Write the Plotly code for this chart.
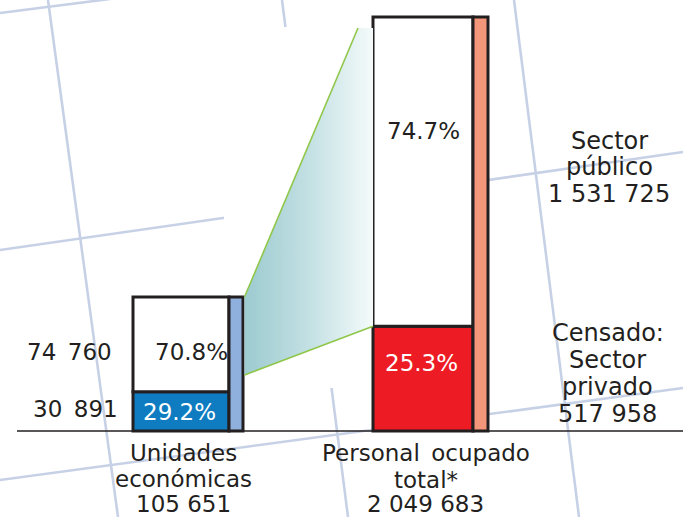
import plotly.graph_objects as go

# ---------------- data ----------------
categories = ["Unidades económicas", "Personal ocupado total*"]
category_lines = [["Unidades", "económicas"], ["Personal\u2002ocupado", "total*"]]
totals = [105651, 2049683]

unidades_values = [30891, 74760]        # censado (privado), resto
unidades_pct = [29.2, 70.8]
personal_values = [517958, 1531725]     # sector privado, sector público
personal_pct = [25.3, 74.7]
right_labels_public = ["Sector", "público"]
right_labels_private = ["Censado:", "Sector", "privado"]

# ---------------- styling / layout constants ----------------
W, H = 683, 517
BASE_PX = 431           # baseline pixel row
STEP_PX = 242           # distance between the two bar centres
LEFT_C_PX = 181         # centre of first bar
LEFT_FULL_PX = 134      # drawn height of the first bar
RIGHT_FULL_PX = 414     # drawn height of the second bar
BORDER = "#231f20"
TXT = "#231f20"
FONT = "DejaVu Sans"

def px2paper(x, y):
    return x / W, 1 - y / H

def fmt(n, sep=" "):
    return f"{n:,}".replace(",", sep)

xr = [-LEFT_C_PX / STEP_PX, (W - LEFT_C_PX) / STEP_PX]
yr = [-(H - BASE_PX) / LEFT_FULL_PX * 100, BASE_PX / LEFT_FULL_PX * 100]
y2r = [-(H - BASE_PX) / RIGHT_FULL_PX * 100, BASE_PX / RIGHT_FULL_PX * 100]

fig = go.Figure()

# bar geometry (in x units)
l_off, l_w = -48 / STEP_PX, 96 / STEP_PX
lt_off, lt_w = 48 / STEP_PX, 14 / STEP_PX
r_off, r_w = -50 / STEP_PX, 100 / STEP_PX
rt_off, rt_w = 50 / STEP_PX, 15 / STEP_PX

# connector (zoom wedge) on y2
left_bar_top_y2 = 100 * LEFT_FULL_PX / RIGHT_FULL_PX
xl = 0 + lt_off + lt_w + 1.5 / STEP_PX
xr_edge = 1 + r_off
x_top = (358 - LEFT_C_PX) / STEP_PX
y_top = (BASE_PX - 28) / RIGHT_FULL_PX * 100
y_lb = (BASE_PX - 375) / RIGHT_FULL_PX * 100
y_rb = personal_pct[0]

fig.add_trace(go.Scatter(
    x=[xl, x_top, xr_edge, xr_edge, xl, xl],
    y=[left_bar_top_y2, y_top, y_top, y_rb, y_lb, left_bar_top_y2],
    yaxis="y2", mode="lines", fill="toself", line=dict(width=0),
    fillgradient=dict(type="horizontal",
                      colorscale=[[0, "#9ccbd0"], [0.5, "#c3e0e3"], [1, "#f4fafa"]]),
    hoverinfo="skip", showlegend=False))
fig.add_trace(go.Scatter(
    x=[xl, x_top, None, xl, xr_edge],
    y=[left_bar_top_y2, y_top, None, y_lb, y_rb],
    yaxis="y2", mode="lines", line=dict(color="#8fc74a", width=1.6),
    hoverinfo="skip", showlegend=False))

# left bar (y axis)
bar_line = dict(color=BORDER, width=3)
fig.add_trace(go.Bar(x=[0], y=[unidades_pct[0]], base=[0], offset=l_off, width=l_w,
                     marker=dict(color="#0f7cc1", line=bar_line), yaxis="y", showlegend=False))
fig.add_trace(go.Bar(x=[0], y=[unidades_pct[1]], base=[unidades_pct[0]], offset=l_off, width=l_w,
                     marker=dict(color="white", line=bar_line), yaxis="y", showlegend=False))
fig.add_trace(go.Bar(x=[0], y=[sum(unidades_pct)], base=[0], offset=lt_off, width=lt_w,
                     marker=dict(color="#8fb0dc", line=bar_line), yaxis="y", showlegend=False))
# right bar (y2 axis)
fig.add_trace(go.Bar(x=[1], y=[personal_pct[0]], base=[0], offset=r_off, width=r_w,
                     marker=dict(color="#ed1c24", line=bar_line), yaxis="y2", showlegend=False))
fig.add_trace(go.Bar(x=[1], y=[personal_pct[1]], base=[personal_pct[0]], offset=r_off, width=r_w,
                     marker=dict(color="white", line=bar_line), yaxis="y2", showlegend=False))
fig.add_trace(go.Bar(x=[1], y=[sum(personal_pct)], base=[0], offset=rt_off, width=rt_w,
                     marker=dict(color="#f4967a", line=bar_line), yaxis="y2", showlegend=False))

# ---------------- decorative background grid ----------------
shapes = []
grid = [((0, 13), (110, -1)), ((48, 0), (118, 517)), ((0, 250), (683, 152)),
        ((282, 0), (348, 517)), ((514, 0), (579, 517)), ((0, 480), (683, 388))]
for (x0, y0), (x1, y1) in grid:
    a, b = px2paper(x0, y0)
    c, d = px2paper(x1, y1)
    shapes.append(dict(type="line", xref="paper", yref="paper", x0=a, y0=b, x1=c, y1=d,
                       line=dict(color="#c7d1e6", width=2.6), layer="below"))
a, b = px2paper(224, 27)
c, d = px2paper(488, 388)
shapes.append(dict(type="rect", xref="paper", yref="paper", x0=a, y0=d, x1=c, y1=b,
                   fillcolor="white", line=dict(width=0), layer="below"))
a, b = px2paper(17, BASE_PX)
shapes.append(dict(type="line", xref="paper", yref="paper", x0=a, y0=b, x1=1, y1=b,
                   line=dict(color=BORDER, width=1.5), layer="below"))

# ---------------- text ----------------
ann = []
def add_text(text, xpx, ypx, size=23, color=TXT):
    x, y = px2paper(xpx, ypx)
    ann.append(dict(text=text, x=x, y=y, xref="paper", yref="paper", showarrow=False,
                    xanchor="center", yanchor="middle",
                    font=dict(family=FONT, size=size, color=color)))

add_text(fmt(unidades_values[1], "\u2002"), 69.5, 352)
add_text(fmt(unidades_values[0], "\u2002"), 75.5, 408.5)
add_text(f"{unidades_pct[1]:.1f}%", 191, 351.5)
add_text(f"{unidades_pct[0]:.1f}%", 179, 411.5, color="white")
add_text(f"{personal_pct[1]:.1f}%", 423.5, 131.5)
add_text(f"{personal_pct[0]:.1f}%", 421.5, 362.5, color="white")

for t, yy in zip(right_labels_public + [fmt(personal_values[1])], [141, 167.5, 194.3]):
    add_text(t, 609, yy, size=24)
for t, yy in zip(right_labels_private + [fmt(personal_values[0])], [333.3, 360.2, 387, 414]):
    add_text(t, 607.5, yy, size=24)

for t, yy in zip(category_lines[0] + [fmt(totals[0])], [452.7, 478.5, 503.5]):
    add_text(t, 183.5, yy)
for t, yy in zip(category_lines[1] + [fmt(totals[1])], [452.8, 479.5, 503.5]):
    add_text(t, 425.5, yy)

fig.update_layout(
    width=W, height=H, margin=dict(l=0, r=0, t=0, b=0),
    paper_bgcolor="white", plot_bgcolor="rgba(0,0,0,0)",
    barmode="overlay", hovermode=False, showlegend=False,
    xaxis=dict(range=xr, visible=False, fixedrange=True),
    yaxis=dict(range=yr, visible=False, fixedrange=True),
    yaxis2=dict(range=y2r, visible=False, overlaying="y", fixedrange=True),
    shapes=shapes, annotations=ann,
)

fig.write_html("out.html", config={"displayModeBar": False},
               post_script="document.body.style.margin='0';document.body.style.padding='0';"
                           "document.body.style.overflow='hidden';")
